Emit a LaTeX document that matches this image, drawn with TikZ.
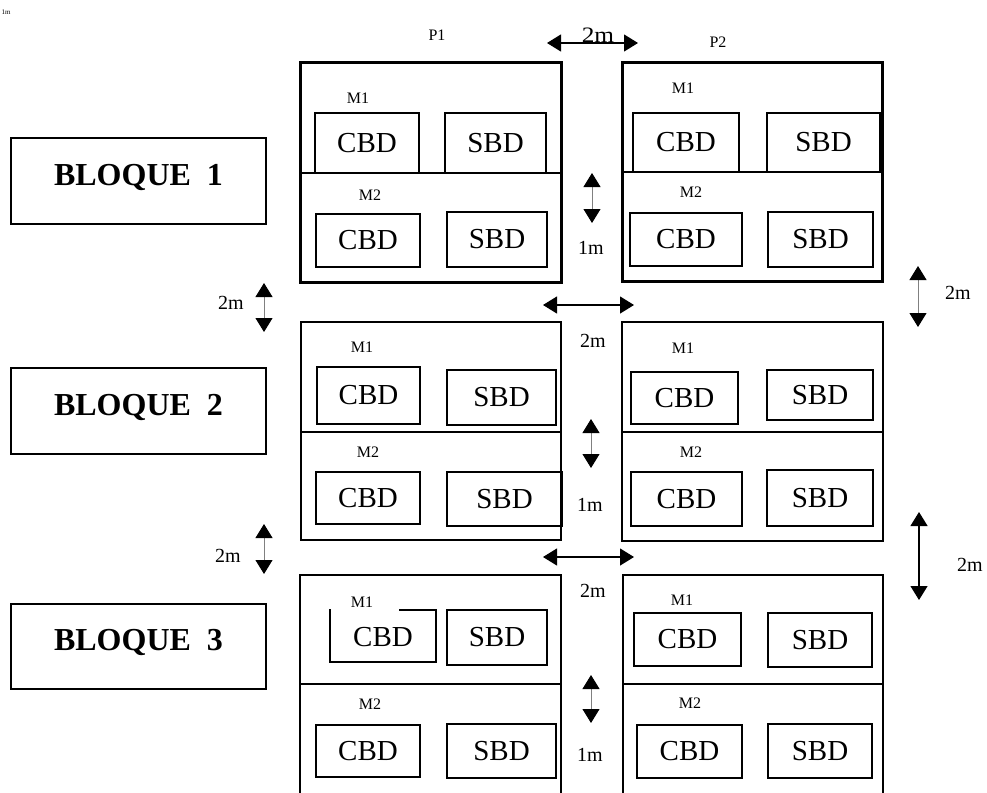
\documentclass[tikz,border=0pt]{standalone}
\usepackage{fontspec}
\setmainfont{Liberation Serif}
\usetikzlibrary{arrows.meta}
\newcommand{\fs}[1]{\fontsize{#1}{#1}\selectfont}
\tikzset{
  outerA/.style={line width=3pt},
  outerB/.style={line width=2.3pt},
  divider/.style={line width=1.3pt},
  cell/.style={draw, line width=2pt, inner sep=0pt, font=\fs{29}},
  bloque/.style={draw, line width=2pt, inner sep=0pt, text height=22pt, text depth=14pt, font=\fs{32}\bfseries},
  mlabel/.style={font=\fs{16}, inner sep=0pt},
  dimlabel/.style={font=\fs{20}, inner sep=0pt},
  tipk/.tip={Triangle[length=14pt,width=17pt,color=black]},
  dimgray/.style={tipk-tipk, draw=gray, line width=1pt},
  dimblack/.style={tipk-tipk, draw=black, line width=1.2pt},
}
% \cellbox{name}{x1}{y1}{x2}{y2}{text}
\newcommand{\cellbox}[6]{%
  \node[cell, minimum width={(#4-#2)*1pt}, minimum height={(#5-#3)*1pt}]
    (#1) at ({(#2+#4)/2},{(#3+#5)/2}) {#6};}
\begin{document}
\begin{tikzpicture}[x=1pt,y=-1pt]
\useasboundingbox (0,0) rectangle (987,792);
\clip (0,0) rectangle (987,792);

% tiny label top-left
\node[font=\fs{7}, inner sep=0pt] (tiny) at (6,12) {1m};

% column labels
\node[mlabel] (p1) at (437,35) {P1};
\node[mlabel] (p2) at (718,42) {P2};
\coordinate (tA) at (547,43); \coordinate (tB) at (638,43);
\draw[dimblack] (tA) -- (tB);
\node[inner sep=0pt, font=\fs{22}] (t2m) at (598,35) {\scalebox{1.15}[1]{2m}};

% ---------------- Bloques
\node[bloque, minimum width=255pt, minimum height=86pt] (b1) at (138.5,181) {BLOQUE\ \ 1};
\node[bloque, minimum width=255pt, minimum height=86pt] (b2) at (138.5,411) {BLOQUE\ \ 2};
\node[bloque, minimum width=255pt, minimum height=85pt] (b3) at (138.5,646.5) {BLOQUE\ \ 3};

% ---------------- Row 1
\draw[outerA] (300,63) rectangle (561,282);
\draw[divider] (300,173) -- (561,173);
\node[mlabel] (r1p1m1) at (358,98) {M1};
\cellbox{r1p1c1}{315}{113}{419}{173}{CBD}
\cellbox{r1p1s1}{445}{113}{546}{173}{SBD}
\node[mlabel] (r1p1m2) at (370,195) {M2};
\cellbox{r1p1c2}{316}{214}{420}{267}{CBD}
\cellbox{r1p1s2}{447}{212}{547}{267}{SBD}

\draw[outerA] (622,63) rectangle (882,281);
\draw[divider] (622,172) -- (882,172);
\node[mlabel] (r1p2m1) at (683,88) {M1};
\cellbox{r1p2c1}{633}{113}{739}{172}{CBD}
\cellbox{r1p2s1}{767}{113}{880}{172}{SBD}
\node[mlabel] (r1p2m2) at (691,192) {M2};
\cellbox{r1p2c2}{630}{213}{742}{266}{CBD}
\cellbox{r1p2s2}{768}{212}{873}{267}{SBD}

% 1m arrow row 1
\coordinate (a1t) at (592,173); \coordinate (a1b) at (592,223);
\draw[dimgray] (a1t) -- (a1b);
\node[dimlabel] (l1m1) at (591,248) {1m};

% gaps between row 1 and 2
\coordinate (gl1t) at (264,283); \coordinate (gl1b) at (264,332);
\draw[dimgray] (gl1t) -- (gl1b);
\node[dimlabel] (lg1) at (231,303) {2m};
\coordinate (gh1l) at (543,305); \coordinate (gh1r) at (634,305);
\draw[dimblack] (gh1l) -- (gh1r);
\node[dimlabel] (lh1) at (593,341) {2m};
\coordinate (gr1t) at (918,266); \coordinate (gr1b) at (918,327);
\draw[dimgray] (gr1t) -- (gr1b);
\node[dimlabel] (lr1) at (958,293) {2m};

% ---------------- Row 2
\draw[outerB] (301,322) rectangle (561,540);
\draw[divider] (301,432) -- (561,432);
\node[mlabel] (r2p1m1) at (362,347) {M1};
\cellbox{r2p1c1}{317}{367}{420}{424}{CBD}
\cellbox{r2p1s1}{447}{370}{556}{425}{SBD}
\node[mlabel] (r2p1m2) at (368,452) {M2};
\cellbox{r2p1c2}{316}{472}{420}{524}{CBD}
\cellbox{r2p1s2}{447}{472}{562}{526}{SBD}

\draw[outerB] (622,322) rectangle (883,541);
\draw[divider] (622,432) -- (883,432);
\node[mlabel] (r2p2m1) at (683,348) {M1};
\cellbox{r2p2c1}{631}{372}{738}{424}{CBD}
\cellbox{r2p2s1}{767}{370}{873}{420}{SBD}
\node[mlabel] (r2p2m2) at (691,452) {M2};
\cellbox{r2p2c2}{631}{472}{742}{526}{CBD}
\cellbox{r2p2s2}{767}{470}{873}{526}{SBD}

\coordinate (a2t) at (591,419); \coordinate (a2b) at (591,468);
\draw[dimgray] (a2t) -- (a2b);
\node[dimlabel] (l1m2) at (590,505) {1m};

% gaps between row 2 and 3
\coordinate (gl2t) at (264,524); \coordinate (gl2b) at (264,574);
\draw[dimgray] (gl2t) -- (gl2b);
\node[dimlabel] (lg2) at (228,556) {2m};
\coordinate (gh2l) at (543,557); \coordinate (gh2r) at (634,557);
\draw[dimblack] (gh2l) -- (gh2r);
\node[dimlabel] (lh2) at (593,591) {2m};
\coordinate (gr2t) at (919,512); \coordinate (gr2b) at (919,600);
\draw[dimblack] (gr2t) -- (gr2b);
\node[dimlabel] (lr2) at (970,565) {2m};

% ---------------- Row 3
\draw[outerB] (300,800) -- (300,575) -- (561,575) -- (561,800);
\draw[divider] (300,684) -- (561,684);
\node[mlabel] (r3p1m1) at (362,602) {M1};
\draw[line width=2pt] (399,610) -- (436,610) -- (436,662) -- (330,662) -- (330,609);
\node[font=\fs{29}, inner sep=0pt] (r3p1c1) at (383,637) {CBD};
\cellbox{r3p1s1}{447}{610}{547}{665}{SBD}
\node[mlabel] (r3p1m2) at (370,704) {M2};
\cellbox{r3p1c2}{316}{725}{420}{777}{CBD}
\cellbox{r3p1s2}{447}{724}{556}{778}{SBD}

\draw[outerB] (623,800) -- (623,575) -- (883,575) -- (883,800);
\draw[divider] (623,684) -- (883,684);
\node[mlabel] (r3p2m1) at (682,600) {M1};
\cellbox{r3p2c1}{634}{613}{741}{666}{CBD}
\cellbox{r3p2s1}{768}{613}{872}{667}{SBD}
\node[mlabel] (r3p2m2) at (690,703) {M2};
\cellbox{r3p2c2}{637}{725}{742}{778}{CBD}
\cellbox{r3p2s2}{768}{724}{872}{778}{SBD}

\coordinate (a3t) at (591,675); \coordinate (a3b) at (591,723);
\draw[dimgray] (a3t) -- (a3b);
\node[dimlabel] (l1m3) at (590,755) {1m};
\end{tikzpicture}
\end{document}
